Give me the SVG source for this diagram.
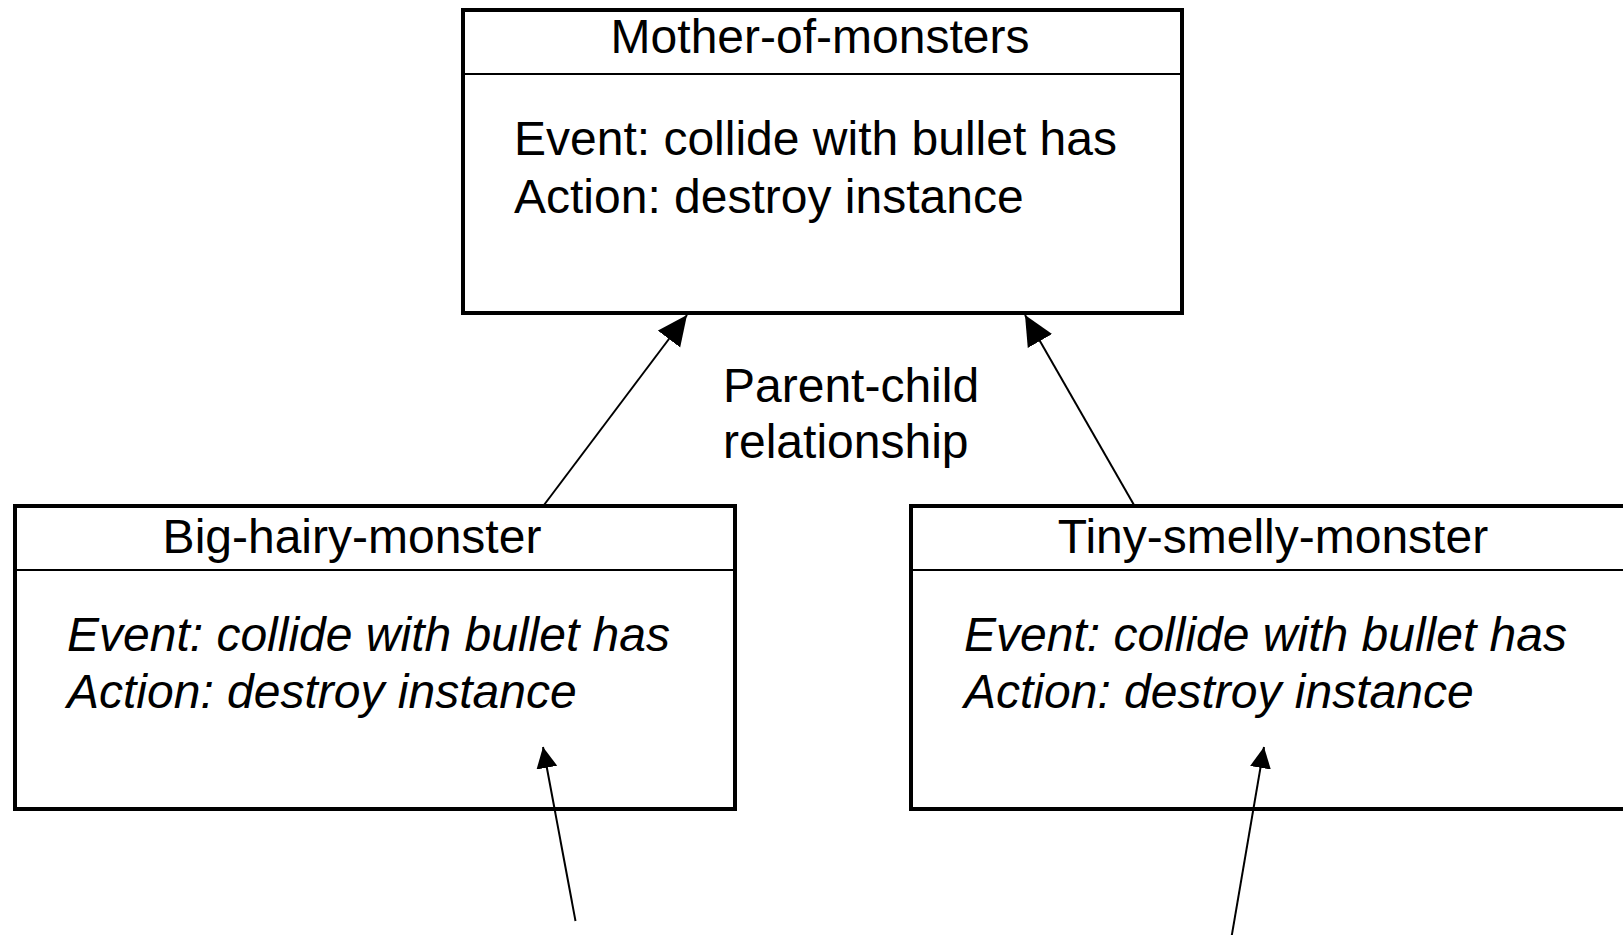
<svg xmlns="http://www.w3.org/2000/svg" width="1623" height="935" viewBox="0 0 1623 935">
<style>
.box{fill:#fff;stroke:#000;stroke-width:4}
.div{stroke:#000;stroke-width:2}
.t{font-family:"Liberation Sans",Arial,sans-serif;font-size:48px;fill:#000}
.i{font-style:italic}
.c{stroke:#000;stroke-width:2;fill:none}
</style>
<defs>
<marker id="ahL" markerUnits="userSpaceOnUse" markerWidth="32" markerHeight="30" refX="30" refY="14" orient="auto"><path d="M0,0 L30,14 L0,28 z" fill="#000"/></marker>
<marker id="ahS" markerUnits="userSpaceOnUse" markerWidth="22" markerHeight="22" refX="21" refY="10.5" orient="auto"><path d="M0,0 L21,10.5 L0,21 z" fill="#000"/></marker>
</defs>
<rect width="1623" height="935" fill="#fff"/>
<g id="mother">
<rect class="box" x="463" y="10" width="719" height="303"/>
<line class="div" x1="463" y1="74" x2="1182" y2="74"/>
<text class="t" x="820" y="53" text-anchor="middle">Mother-of-monsters</text>
<text class="t" x="514" y="155">Event: collide with bullet has</text>
<text class="t" x="514" y="213">Action: destroy instance</text>
</g>
<g id="big">
<rect class="box" x="15" y="506" width="720" height="303"/>
<line class="div" x1="15" y1="570" x2="735" y2="570"/>
<text class="t" x="352" y="553" text-anchor="middle">Big-hairy-monster</text>
<text class="t i" x="67" y="651">Event: collide with bullet has</text>
<text class="t i" x="67" y="708">Action: destroy instance</text>
</g>
<g id="tiny">
<rect class="box" x="911" y="506" width="720" height="303"/>
<line class="div" x1="911" y1="570" x2="1631" y2="570"/>
<text class="t" x="1273" y="553" text-anchor="middle">Tiny-smelly-monster</text>
<text class="t i" x="964" y="651">Event: collide with bullet has</text>
<text class="t i" x="964" y="708">Action: destroy instance</text>
</g>
<g id="label">
<text class="t" x="723" y="402">Parent-child</text>
<text class="t" x="723" y="458">relationship</text>
</g>
<g id="connectors">
<line class="c" x1="544" y1="505" x2="687" y2="315" marker-end="url(#ahL)"/>
<line class="c" x1="1134" y1="505" x2="1025" y2="315" marker-end="url(#ahL)"/>
<line class="c" x1="575.5" y1="921" x2="543" y2="747" marker-end="url(#ahS)"/>
<line class="c" x1="1231" y1="940" x2="1264" y2="747" marker-end="url(#ahS)"/>
</g>
</svg>
